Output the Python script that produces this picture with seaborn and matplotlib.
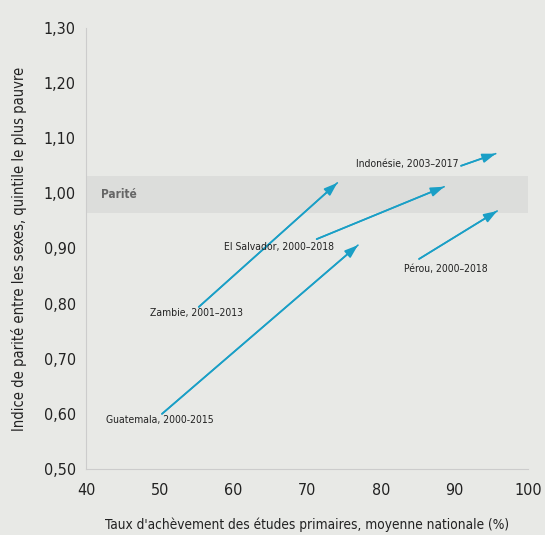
import matplotlib
matplotlib.use("Agg")
import matplotlib.pyplot as plt
import seaborn as sns
import pandas as pd

countries = ["Zambie, 2001–2013", "Guatemala, 2000-2015", "El Salvador, 2000–2018",
             "Indonésie, 2003–2017", "Pérou, 2000–2018"]
x_start = [55.3, 50.3, 71.3, 90.9, 85.2]
y_start = [0.794, 0.600, 0.917, 1.050, 0.881]
x_end = [74.1, 76.9, 88.6, 95.6, 95.8]
y_end = [1.019, 0.906, 1.012, 1.072, 0.968]
label_x = [55.0, 50.0, 73.6, 90.6, 88.8]
label_y = [0.783, 0.588, 0.902, 1.054, 0.862]
label_ha = ["center", "center", "right", "right", "center"]
parity_low, parity_high = 0.965, 1.032
x_ticks = [40, 50, 60, 70, 80, 90, 100]
y_ticks = [0.50, 0.60, 0.70, 0.80, 0.90, 1.00, 1.10, 1.20, 1.30]

bg = "#e8e9e6"
arrow_c = "#1a9fc6"
sns.set_style("white", {"axes.facecolor": bg, "figure.facecolor": bg})
plt.rcParams["font.family"] = ["DejaVu Sans"]
plt.rcParams["font.stretch"] = "condensed"

fig = plt.figure(figsize=(5.45, 5.35), dpi=100)
ax = fig.add_axes([0.158, 0.1234, 0.811, 0.8243])
ax.set_facecolor(bg)

ax.axhspan(parity_low, parity_high, color="#dcdddb", zorder=0, lw=0)
ax.text(42, (parity_low + parity_high) / 2, "Parité", fontsize=8.5, fontweight="bold",
        color="#666666", va="center", ha="left")

rows = []
for c, xs, ys, xe, ye in zip(countries, x_start, y_start, x_end, y_end):
    rows.append({"country": c, "x": xs, "y": ys})
    rows.append({"country": c, "x": xe, "y": ye})
df = pd.DataFrame(rows)
sns.lineplot(data=df, x="x", y="y", units="country", estimator=None, color=arrow_c,
             lw=1.2, ax=ax, legend=False, sort=False)

for c, xs, ys, xe, ye, lx, ly, ha in zip(countries, x_start, y_start, x_end, y_end,
                                          label_x, label_y, label_ha):
    ax.annotate("", xy=(xe, ye), xytext=(xs, ys),
                arrowprops=dict(arrowstyle="-|>,head_length=0.8,head_width=0.28",
                                color=arrow_c, lw=1.2, shrinkA=0, shrinkB=0))
    ax.text(lx, ly, c, fontsize=7.5, color="#222222", ha=ha, va="center")

ax.set_xlim(40, 100)
ax.set_ylim(0.50, 1.30)
ax.set_xticks(x_ticks)
ax.set_yticks(y_ticks)
ax.set_yticklabels([f"{v:.2f}".replace(".", ",") for v in y_ticks])
ax.tick_params(axis="both", labelsize=11.5, colors="#cccccc", labelcolor="#222222",
               length=4, width=0.8, direction="out")
ax.tick_params(axis="x", pad=6)
for s in ["top", "right"]:
    ax.spines[s].set_visible(False)
for s in ["left", "bottom"]:
    ax.spines[s].set_color("#cccccc")
    ax.spines[s].set_linewidth(0.8)

ax.set_xlabel("Taux d'achèvement des études primaires, moyenne nationale (%)",
              fontsize=9.8, color="#222222", labelpad=14)
ax.set_ylabel("Indice de parité entre les sexes, quintile le plus pauvre",
              fontsize=10.5, color="#222222", labelpad=12)

fig.savefig("out.png", dpi=100, facecolor=bg)
